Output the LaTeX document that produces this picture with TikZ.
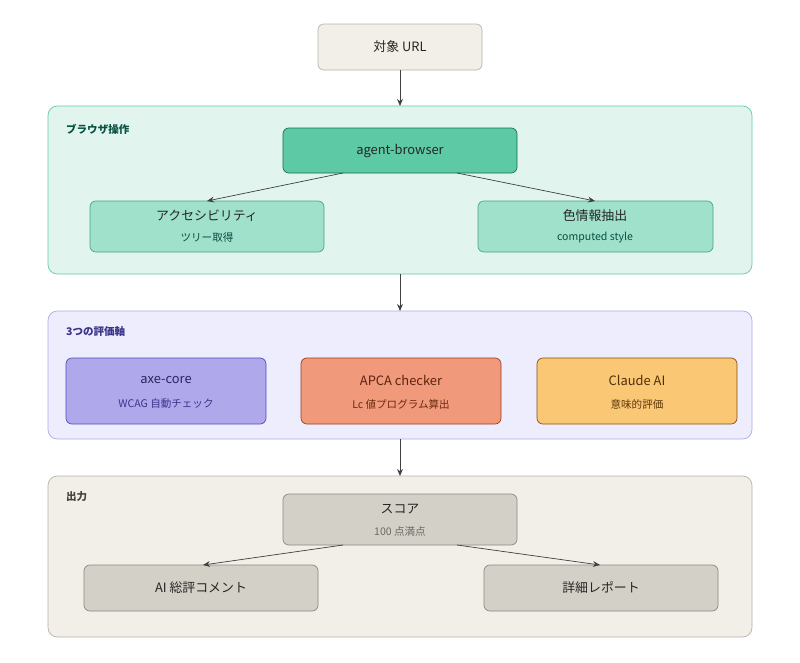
\documentclass[tikz,border=0pt]{standalone}
\usepackage{fontspec}
\setmainfont{Noto Sans CJK JP}
\usetikzlibrary{arrows.meta}
\definecolor{gA}{HTML}{E1F5EE}\definecolor{gAb}{HTML}{5DCAA5}
\definecolor{nA}{HTML}{5DCAA5}\definecolor{nAb}{HTML}{0F6E56}
\definecolor{nB}{HTML}{9FE1CB}\definecolor{tA}{HTML}{085041}
\definecolor{gP}{HTML}{EEEDFE}\definecolor{gPb}{HTML}{AFA9EC}
\definecolor{nP}{HTML}{AFA9EC}\definecolor{nPb}{HTML}{534AB7}\definecolor{tP}{HTML}{3C3489}
\definecolor{nC}{HTML}{F0997B}\definecolor{nCb}{HTML}{993C1D}
\definecolor{nY}{HTML}{FAC775}\definecolor{nYb}{HTML}{854F0B}
\definecolor{gG}{HTML}{F1EFE8}\definecolor{gGb}{HTML}{B4B2A9}
\definecolor{nG}{HTML}{D3D1C7}\definecolor{nGb}{HTML}{888780}\definecolor{tG}{HTML}{444441}
\begin{document}
\begin{tikzpicture}[x=0.03cm,y=-0.03cm,
 box/.style={draw,rounded corners=5pt,line width=0.6pt},
 grp/.style={draw,rounded corners=8pt,line width=0.6pt},
 glab/.style={anchor=west,font=\bfseries\fontsize{9}{11}\selectfont},
 t1/.style={font=\fontsize{11}{13}\selectfont,text=black!85},
 t2/.style={font=\fontsize{9}{11}\selectfont},
 arr/.style={-{Stealth[length=6pt,width=5pt]},line width=0.6pt,draw=black!75}]
\useasboundingbox (0,0) rectangle (800,662);
% URL
\draw[box,fill=gG,draw=gGb] (318,24) rectangle (482,70);
\node[t1] (url) at (400,47) {対象 URL};
\coordinate (urlb) at (400,70);
% group 1
\draw[grp,fill=gA,draw=gAb] (48,106) rectangle (752,274);
\node[glab,text=tA] (g1) at (62,129) {ブラウザ操作};
\coordinate (g1t) at (400,106); \coordinate (g1b) at (400,274);
\draw[box,fill=nA,draw=nAb] (283,128) rectangle (517,173);
\node[t1] (ab) at (400,150.5) {agent-browser};
\draw[box,fill=nB,draw=gAb!80!black] (90,201) rectangle (324,252);
\node[t1] (ax) at (207,216) {アクセシビリティ};
\node[t2,text=tA] (ax2) at (207,238) {ツリー取得};
\draw[box,fill=nB,draw=gAb!80!black] (478,201) rectangle (713,252);
\node[t1] (col) at (595,216) {色情報抽出};
\node[t2,text=tA] (col2) at (595,238) {computed style};
\coordinate (abl) at (343,173); \coordinate (abr) at (457,173);
\coordinate (axt) at (207,201); \coordinate (colt) at (595,201);
% group 2
\draw[grp,fill=gP,draw=gPb] (48,311) rectangle (752,439);
\node[glab,text=tP] (g2) at (62,331) {3つの評価軸};
\coordinate (g2t) at (400,311); \coordinate (g2b) at (400,439);
\draw[box,fill=nP,draw=nPb] (66,358) rectangle (266,424);
\node[t1,text=tP!70!black] (axe) at (166,380) {axe-core};
\node[t2,text=tP] (axe2) at (166,404) {WCAG 自動チェック};
\draw[box,fill=nC,draw=nCb] (301,358) rectangle (501,424);
\node[t1,text=nCb!60!black] (apca) at (401,380) {APCA checker};
\node[t2,text=nCb!70!black] (apca2) at (401,404) {Lc 値プログラム算出};
\draw[box,fill=nY,draw=nYb] (537,358) rectangle (737,424);
\node[t1,text=nYb!60!black] (cl) at (637,380) {Claude AI};
\node[t2,text=nYb!70!black] (cl2) at (637,404) {意味的評価};
% group 3
\draw[grp,fill=gG,draw=gGb] (48,476) rectangle (752,637);
\node[glab,text=tG] (g3) at (62,497) {出力};
\coordinate (g3t) at (400,476);
\draw[box,fill=nG,draw=nGb] (283,494) rectangle (517,545);
\node[t1] (sc) at (400,509) {スコア};
\node[t2,text=tG!80] (sc2) at (400,531) {100 点満点};
\draw[box,fill=nG,draw=nGb] (84,565) rectangle (318,611);
\node[t1] (ai) at (201,588) {AI 総評コメント};
\draw[box,fill=nG,draw=nGb] (484,565) rectangle (718,611);
\node[t1] (rep) at (601,588) {詳細レポート};
\coordinate (scl) at (343,545); \coordinate (scr) at (457,545);
\coordinate (ait) at (203,565); \coordinate (rept) at (600,565);
% arrows
\draw[arr] (urlb) -- (g1t);
\draw[arr] (g1b) -- (g2t);
\draw[arr] (g2b) -- (g3t);
\draw[arr] (abl) -- (axt);
\draw[arr] (abr) -- (colt);
\draw[arr] (scl) -- (ait);
\draw[arr] (scr) -- (rept);
\end{tikzpicture}
\end{document}
